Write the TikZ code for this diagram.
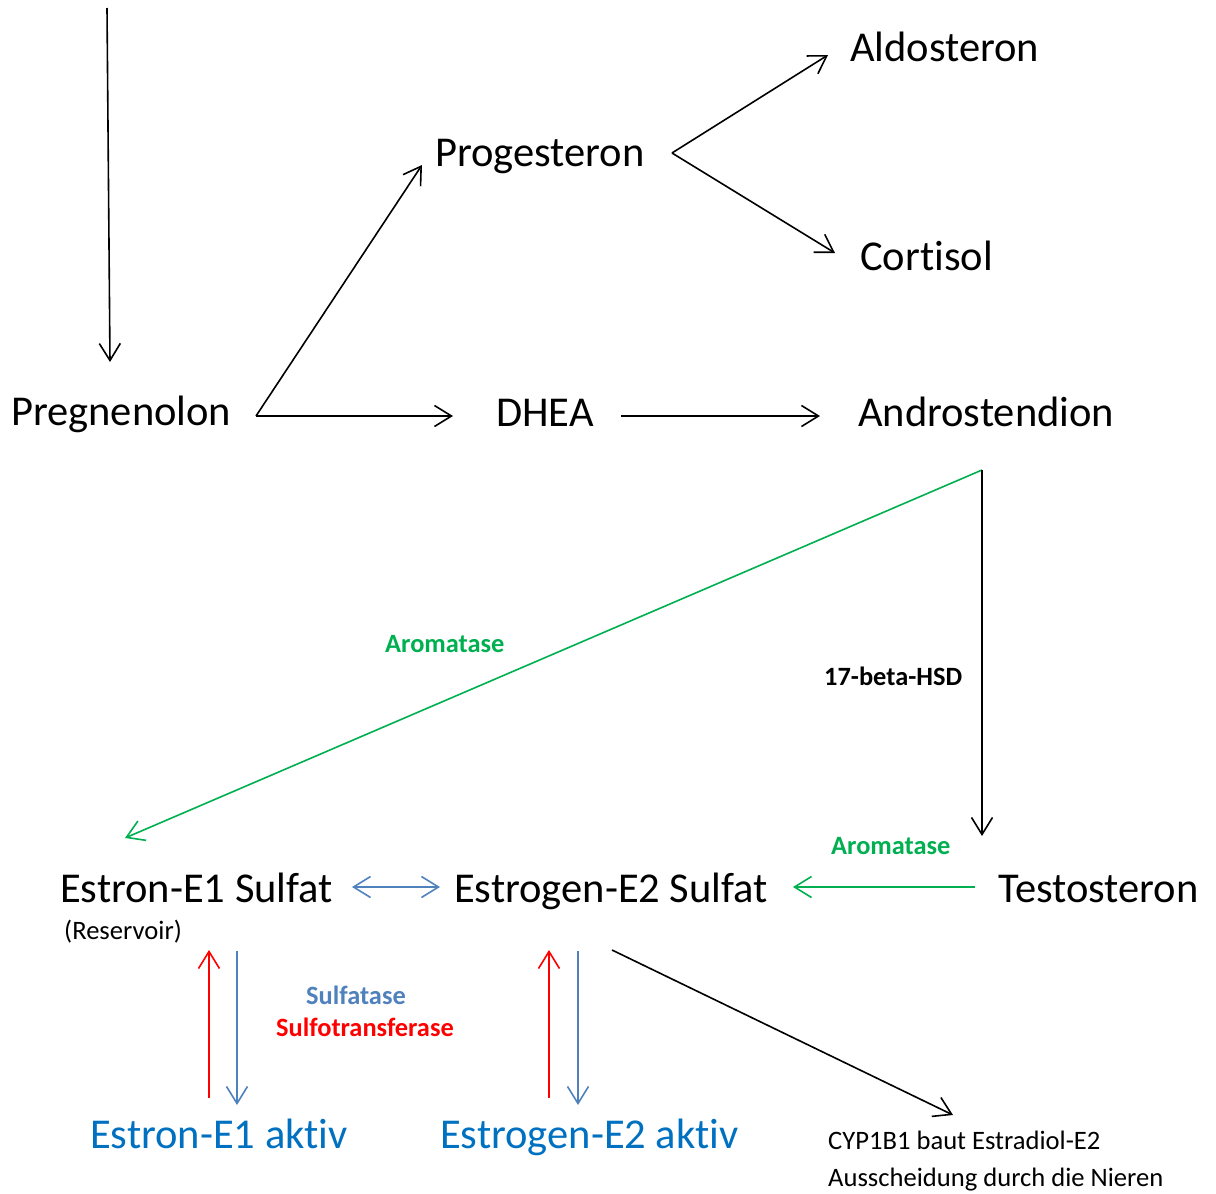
\documentclass[tikz,border=0pt]{standalone}
\usepackage{fontspec}
\setmainfont{Carlito}[Ligatures=NoCommon]
\usetikzlibrary{arrows.meta}
\definecolor{cgreen}{RGB}{0,176,80}
\definecolor{carrowblue}{RGB}{79,129,189}
\definecolor{ctextblue}{RGB}{0,112,192}
\definecolor{cred}{RGB}{255,0,0}
\tikzset{
  big/.style={inner sep=0pt, anchor=base west, font=\fontsize{42.5}{50}\selectfont},
  small/.style={inner sep=0pt, anchor=base west, font=\fontsize{26.6}{32}\selectfont},
  smallbold/.style={inner sep=0pt, anchor=base west, font=\fontsize{26.4}{32}\selectfont\bfseries},
  arr/.style={line width=1.6pt, -{Straight Barb[length=17pt,width=21pt,line width=1.6pt]}},
  darr/.style={line width=1.6pt, {Straight Barb[length=17pt,width=21pt,line width=1.6pt]}-{Straight Barb[length=17pt,width=21pt,line width=1.6pt]}},
}
\begin{document}
\begin{tikzpicture}[x=1pt,y=-1pt]
\useasboundingbox (0,0) rectangle (1216,1194);
% nodes
\node[big] (preg) at (11,425) {Pregnenolon};
\node[big] (prog) at (435,166) {Progesteron};
\node[big] (aldo) at (850,61) {Aldosteron};
\node[big] (cort) at (860,270) {Cortisol};
\node[big] (dhea) at (496,426) {DHEA};
\node[big] (andr) at (858,426) {Androstendion};
\node[big] (test) at (998,902) {Testosteron};
\node[big] (e2s) at (454,902) {Estrogen-E2 Sulfat};
\node[big] (e1s) at (60,902) {Estron-E1 Sulfat};
\node[small] (res) at (64,939) {(Reservoir)};
\node[big,text=ctextblue] (e1a) at (90,1148) {Estron-E1 aktiv};
\node[big,text=ctextblue] (e2a) at (440,1148) {Estrogen-E2 aktiv};
\node[smallbold,text=cgreen] (arom1) at (385,652) {Aromatase};
\node[smallbold] (hsd) at (824,685) {17-beta-HSD};
\node[smallbold,text=cgreen] (arom2) at (831,854) {Aromatase};
\node[smallbold,text=carrowblue] (sulfa) at (306,1004) {Sulfatase};
\node[smallbold,text=cred] (sulfo) at (276,1036) {Sulfotransferase};
\node[small] (cyp) at (828,1149) {CYP1B1 baut Estradiol-E2};
\node[small] (aus) at (828,1186) {Ausscheidung durch die Nieren};
% coordinates
\coordinate (top) at (107,8);
\coordinate (pregin) at (110,362);
\coordinate (pregv) at (256,416);
\coordinate (progin) at (422,165);
\coordinate (dheain) at (453,416);
\coordinate (progv) at (672,153);
\coordinate (aldoin) at (828,55);
\coordinate (cortin) at (835,253);
\coordinate (dheaout) at (621,416);
\coordinate (andrin) at (820,416);
\coordinate (andrv) at (982,470);
\coordinate (e1sin) at (125,838);
\coordinate (testin) at (982,836);
\coordinate (testout) at (975,887);
\coordinate (e2sin) at (793,887);
\coordinate (dl) at (352,887);
\coordinate (dr) at (440,887);
\coordinate (r1b) at (209,1098);
\coordinate (r1t) at (209,950);
\coordinate (b1t) at (237,951);
\coordinate (b1b) at (237,1105);
\coordinate (r2b) at (549,1098);
\coordinate (r2t) at (549,950);
\coordinate (b2t) at (578,951);
\coordinate (b2b) at (578,1105);
\coordinate (e2sout) at (612,950);
\coordinate (cypin) at (953,1115);
% connectors
\draw[arr] (top) -- (pregin);
\draw[arr] (pregv) -- (progin);
\draw[arr] (pregv) -- (dheain);
\draw[arr] (progv) -- (aldoin);
\draw[arr] (progv) -- (cortin);
\draw[arr] (dheaout) -- (andrin);
\draw[arr,draw=cgreen] (andrv) -- (e1sin);
\draw[arr] (andrv) -- (testin);
\draw[arr,draw=cgreen] (testout) -- (e2sin);
\draw[darr,draw=carrowblue] (dl) -- (dr);
\draw[arr,draw=cred] (r1b) -- (r1t);
\draw[arr,draw=carrowblue] (b1t) -- (b1b);
\draw[arr,draw=cred] (r2b) -- (r2t);
\draw[arr,draw=carrowblue] (b2t) -- (b2b);
\draw[arr] (e2sout) -- (cypin);
\end{tikzpicture}
\end{document}
